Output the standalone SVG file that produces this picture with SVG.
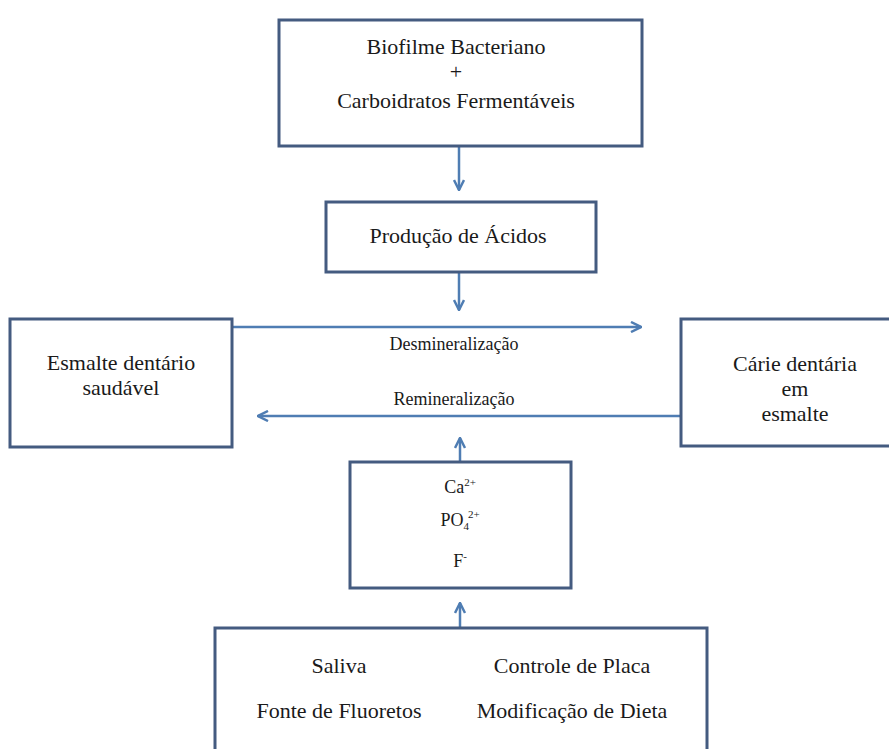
<svg xmlns="http://www.w3.org/2000/svg" width="889" height="749" viewBox="0 0 889 749">
<defs>
<style>
.box{fill:#fff;stroke:#445b80;stroke-width:3}
.t{font-family:'Liberation Serif','Times New Roman',serif;fill:#1a1a1a;text-anchor:middle;font-size:22px}
.s{font-size:18px}
.c{fill:none;stroke:#4f7db3;stroke-width:2.5}
</style>
<marker id="ah" viewBox="0 0 12 12" refX="11" refY="6" markerWidth="12" markerHeight="12" markerUnits="userSpaceOnUse" orient="auto">
<path d="M1,1 L11,6 L1,11" fill="none" stroke="#4f7db3" stroke-width="2.5"/>
</marker>
</defs>
<rect width="889" height="749" fill="#fff"/>
<g id="connectors">
<line class="c" x1="459" y1="146" x2="459" y2="190" marker-end="url(#ah)"/>
<line class="c" x1="459" y1="272" x2="459" y2="310" marker-end="url(#ah)"/>
<line class="c" x1="232" y1="327" x2="641" y2="327" marker-end="url(#ah)"/>
<line class="c" x1="681" y1="416" x2="258" y2="416" marker-end="url(#ah)"/>
<line class="c" x1="460" y1="462" x2="460" y2="438" marker-end="url(#ah)"/>
<line class="c" x1="460" y1="628" x2="460" y2="603" marker-end="url(#ah)"/>
<text class="t s" x="454" y="350">Desmineralização</text>
<text class="t s" x="454" y="405">Remineralização</text>
</g>
<g id="biofilme">
<rect class="box" x="279" y="20" width="363" height="126"/>
<text class="t" x="456" y="54">Biofilme Bacteriano</text>
<text class="t" x="456" y="79">+</text>
<text class="t" x="456" y="108">Carboidratos Fermentáveis</text>
</g>
<g id="producao">
<rect class="box" x="326" y="202" width="270" height="70"/>
<text class="t" x="458" y="243" font-size="21">Produção de Ácidos</text>
</g>
<g id="esmalte">
<rect class="box" x="10" y="319" width="222" height="128"/>
<text class="t" x="121" y="370">Esmalte dentário</text>
<text class="t" x="121" y="395">saudável</text>
</g>
<g id="carie">
<rect class="box" x="681" y="319" width="220" height="127"/>
<text class="t" x="795" y="371">Cárie dentária</text>
<text class="t" x="795" y="396">em</text>
<text class="t" x="795" y="421">esmalte</text>
</g>
<g id="ions">
<rect class="box" x="350" y="462" width="221" height="126"/>
<text class="t s" x="460" y="493">Ca<tspan dy="-7" font-size="11">2+</tspan></text>
<text class="t s" x="460" y="526">PO<tspan dy="4" font-size="11">4</tspan><tspan dy="-12" dx="-1" font-size="11">2+</tspan></text>
<text class="t s" x="460" y="567">F<tspan dy="-7" font-size="11">-</tspan></text>
</g>
<g id="fatores">
<rect class="box" x="215" y="628" width="492" height="140"/>
<text class="t" x="339" y="673">Saliva</text>
<text class="t" x="572" y="673">Controle de Placa</text>
<text class="t" x="339" y="718">Fonte de Fluoretos</text>
<text class="t" x="572" y="718">Modificação de Dieta</text>
</g>
</svg>
